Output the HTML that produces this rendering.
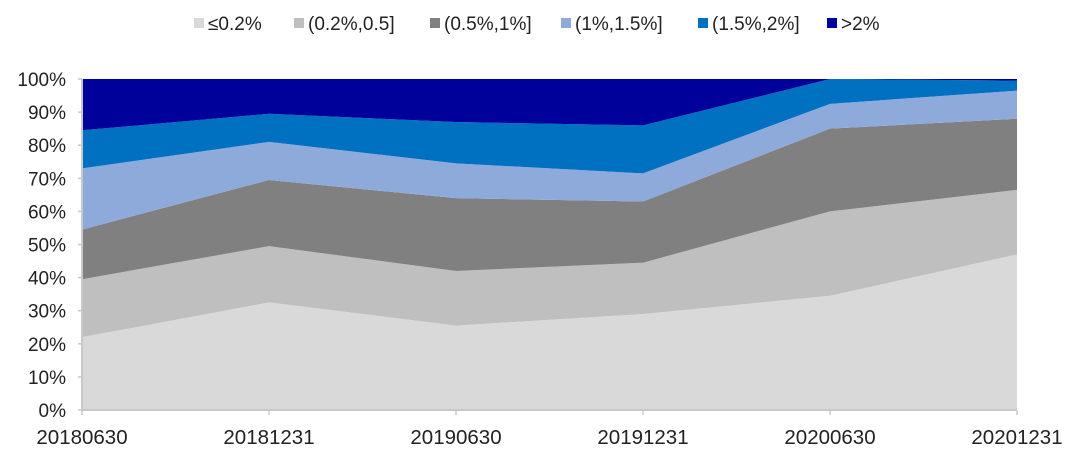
<!DOCTYPE html>
<html><head><meta charset="utf-8"><style>
body{margin:0;background:#fff;width:1074px;height:456px;overflow:hidden;font-family:"Liberation Sans",sans-serif}
</style></head><body>
<svg id="c" width="1074" height="456"></svg>
<script>
const categories=["20180630","20181231","20190630","20191231","20200630","20201231"];
const seriesNames=["≤0.2%","(0.2%,0.5]","(0.5%,1%]","(1%,1.5%]","(1.5%,2%]",">2%"];
const s1=[22,32.5,25.5,29,34.5,47];
const s2=[17.5,17,16.5,15.5,25.5,19.5];
const s3=[15,20,22,18.5,25,21.5];
const s4=[18.5,11.5,10.5,8.5,7.5,8.5];
const s5=[11.5,8.5,12.5,14.5,7.5,3];
const s6=[15.5,10.5,13,14,0,0.5];
const yTicks=[0,10,20,30,40,50,60,70,80,90,100];
const colors=["#d9d9d9","#bfbfbf","#808080","#8eaadb","#0070c0","#00009a"];
const legendX=[203,303,439,570,707,836];
const series=[s1,s2,s3,s4,s5,s6];
const L=82,R=1017,T=79,B=410;
const NS="http://www.w3.org/2000/svg";
const svg=document.getElementById('c');
const x=i=>L+(R-L)*i/(categories.length-1);
const y=v=>B-(B-T)*v/100;
function mk(t,a){const e=document.createElementNS(NS,t);for(const k in a)e.setAttribute(k,a[k]);svg.appendChild(e);return e;}
let base=categories.map(()=>0);
series.forEach((s,si)=>{
  const top=base.map((b,i)=>b+s[i]);
  let pts=top.map((v,i)=>x(i)+","+y(v));
  for(let i=categories.length-1;i>=0;i--)pts.push(x(i)+","+y(base[i]));
  const p=mk('polygon',{points:pts.join(' '),fill:colors[si]});
  
  
  base=top;
});
const ax=mk('line',{x1:L,y1:T,x2:L,y2:B,stroke:'#c8c8c8','stroke-width':2});


const bx=mk('line',{x1:L,y1:B,x2:R,y2:B,stroke:'#c8c8c8','stroke-width':2});


yTicks.forEach(v=>{
  mk('line',{x1:L-4,y1:y(v),x2:L,y2:y(v),stroke:'#c8c8c8','stroke-width':1.5});
  const t=mk('text',{x:66,y:y(v)+7,'text-anchor':'end','font-size':19,fill:'#222'});
  t.textContent=v+'%';
  
  
});
categories.forEach((c,i)=>{
  mk('line',{x1:x(i),y1:B,x2:x(i),y2:B+5,stroke:'#c8c8c8','stroke-width':1.5});
  const t=mk('text',{x:x(i),y:444,'text-anchor':'middle','font-size':20.5,fill:'#222'});
  t.textContent=c;
  
  
});
seriesNames.forEach((n,i)=>{
  const r=mk('rect',{x:legendX[i]-9,y:18,width:10,height:10,fill:colors[i]});
  
  
  const t=mk('text',{x:legendX[i]+5,y:30,'font-size':19,fill:'#222'});
  t.textContent=n;
  
  
});
</script>
</body></html>
